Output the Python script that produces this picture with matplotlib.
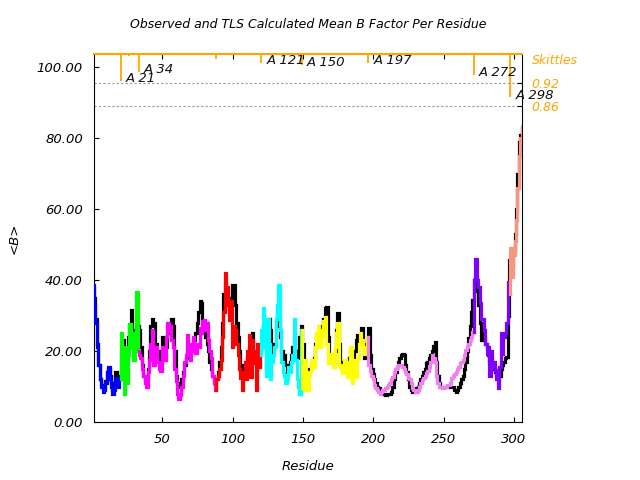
import numpy as np
import matplotlib
matplotlib.use("Agg")
import matplotlib.pyplot as plt
from matplotlib.ticker import FormatStrFormatter

# TLS calculated <B> per TLS group (consecutive residues, group 1 starts at residue 1)
TLS_BLUE = [38.5, 33, 28, 21, 16, 12, 10, 8.5, 9, 11, 14, 15.5, 12, 10, 8, 9, 12.5, 11, 10, 12]
TLS_GREEN = [25, 19.5, 8, 21, 11, 19, 27.5, 21, 25, 17.5, 24, 36.5, 20]
TLS_MAGENTA = [19, 18, 15, 13, 11, 10, 14, 17.5, 22, 26,
               16, 19, 21, 17, 15, 14.5, 21, 18, 17.5, 24,
               27.8, 26, 27, 23, 21, 15, 11.5, 8, 6.5, 7.5,
               10, 13, 17, 19, 24.5, 20, 17.5, 22, 24, 20,
               19.5, 22, 21, 26.5, 25, 28.5, 28.7, 26, 28, 23,
               20, 18, 13, 11, 9]
TLS_RED = [12, 13, 15, 17.5, 24, 31, 42, 38, 33, 28.7,
           34, 21, 27, 26, 22, 19, 15, 12.5, 9, 14,
           17, 12, 20, 24.5, 12.8, 23, 16.5, 20, 9, 22,
           15.5, 19]
TLS_CYAN = [26, 32, 21, 13, 29, 22, 12, 17, 19, 21,
            29, 33, 38.6, 26, 17, 14, 13, 11, 12, 15.5,
            14, 17, 19, 29, 17.5, 12, 10, 8, 26]
TLS_YELLOW = [9.5, 9, 17.5, 13, 9, 14, 17.5, 16, 15.5, 21,
              25, 27, 21, 24, 26, 28.5, 29.7, 22, 16.5, 18,
              19.3, 17, 15.5, 21, 25, 27.8, 16, 15.5, 13.7, 16,
              17.5, 14, 12.8, 17, 21, 11, 17.5, 14, 12.8, 18,
              22, 25, 23, 21, 19.3, 20, 24]
TLS_VIOLET = [16, 14.5, 13, 12, 10.5, 9.5, 9, 8.5, 8, 8.5,
              9, 9, 9.5, 10, 10.5, 11, 12, 12.8, 14, 15,
              15.6, 16, 16, 16, 15.6, 15, 14, 13.5, 12.5, 12,
              11, 9.5, 9, 8.5, 8.5, 9, 10, 11, 11.8, 12.5,
              13, 13.7, 14.5, 15.6, 17, 18.9, 18, 17, 13, 11,
              10, 10, 9.5, 9.5, 10, 10, 10.5, 10.5, 11, 12.5,
              13, 13.5, 14, 15, 15.6, 16.5, 17, 17.5, 19, 20.3,
              21, 22, 23, 24, 25.5]
TLS_PURPLE = [40, 46, 40, 38, 33.4, 29, 29, 26, 22, 19.3,
              21, 13, 20, 15.6, 17, 14.6, 12, 9.5, 15.6, 25,
              19.3, 24, 25, 28, 39.5, 36]
TLS_SALMON = [49, 41, 47, 51, 57, 66, 75, 80, 83]

TLS_GROUPS = [TLS_BLUE, TLS_GREEN, TLS_MAGENTA, TLS_RED, TLS_CYAN,
              TLS_YELLOW, TLS_VIOLET, TLS_PURPLE, TLS_SALMON]
GROUP_COLORS = ["#0000ff", "#00ff00", "#ff00ff", "#ff0000", "#00ffff",
                "#ffff00", "#f080f0", "#8000ff", "#fa9580"]

# observed <B>, residue 1..306
OBSERVED = [38, 35, 29, 22, 16, 12, 10.5, 9.5, 9.5, 11.5,
            14, 15, 13, 11, 9, 11, 14, 13, 11, 13,
            20, 23, 12, 19, 16, 24, 27, 31.5, 24, 22,
            26, 30, 27, 26, 21, 16, 13, 11, 12, 15,
            20, 27, 29, 28, 22, 22, 19, 17, 20, 24,
            24, 22, 21, 25, 27, 28, 29, 27, 20, 13,
            11, 10, 10, 12, 14, 16, 18, 21, 20, 19,
            20, 22, 23, 25, 28, 31, 34, 33.5, 27, 25,
            24, 22, 20, 17, 15, 13, 11, 10.5, 12, 14,
            17, 21, 28, 36, 39, 37, 34, 32, 35, 38.5,
            38.6, 33, 28, 24, 20, 16, 14, 13.5, 15, 17,
            18, 20, 21, 25, 20, 18, 16, 17, 19, 20,
            22, 27, 21, 15, 24, 29, 26, 20, 19, 22,
            27, 31, 29, 24, 20, 17, 19, 16, 14, 16,
            17, 19, 21, 24, 20, 18, 20, 24, 27, 22,
            15, 14, 12, 13, 15, 16, 17, 18, 22, 24,
            25, 23, 24, 27, 29, 32, 32.5, 24, 19, 18,
            17, 16, 20, 26, 30.6, 22, 17, 15, 16, 17,
            15, 14, 18, 20, 16, 18, 20, 23, 24.5, 22,
            24, 26.4, 22, 18, 19, 23, 26.4, 19, 15, 13.5,
            12, 11, 10, 9.5, 9, 8.5, 8, 7.8, 7.6, 8,
            8, 8, 8.5, 10, 12, 14, 15.5, 17, 18, 19,
            19.3, 19, 16, 14, 12, 10, 9, 8.5, 8.5, 9,
            9.5, 10, 11, 12, 13, 14, 15, 16.5, 17, 18,
            19, 20, 21.5, 22.6, 17, 13, 11, 10, 10, 10,
            10, 10, 10, 10, 10, 10, 10, 9, 8.5, 9,
            10, 11, 12, 13, 15, 17, 20, 23.6, 27, 31,
            34.4, 40, 40.5, 37, 33, 28, 23, 27, 24, 22,
            21, 19, 17, 18, 16.5, 15, 14, 13, 12, 13,
            15, 16, 17, 18, 18.3, 30, 45.6, 45, 44, 48,
            53, 60, 70, 79, 81, 83]

# TLS segment boundaries ("skittles")
SKITTLE_RES = [21, 27, 34, 89, 121, 150, 197, 272, 298]
SKITTLE_VALUES = [0.926, 0.991, 0.949, 0.983, 0.973, 0.967, 0.973, 0.941, 0.883]
SKITTLE_LABELS = ["A 21", "", "A 34", "", "A 121", "A 150", "A 197", "A 272", "A 298"]
SKITTLE_LEVELS = [0.92, 0.86]

X_TICKS = [50, 100, 150, 200, 250, 300]
Y_TICKS = [0, 20, 40, 60, 80, 100]
YMAX = 103.7


def sk_to_y(v):
    # skittle scale drawn on the <B> axis: 0.92 -> 95.5, 0.86 -> 89.0
    return 95.5 + (np.asarray(v) - 0.92) * (6.5 / 0.06)


def step_xy(first, vals, prev=None):
    r = np.arange(first, first + len(vals))
    x = np.repeat(r, 2) + np.tile([-0.5, 0.5], len(vals))
    y = np.repeat(np.asarray(vals, float), 2)
    if prev is not None:
        x = np.r_[first - 0.5, x]
        y = np.r_[prev, y]
    return x, y


plt.rcParams["font.family"] = ["DejaVu Sans"]
plt.rcParams["font.style"] = "italic"

fig = plt.figure(figsize=(6.4, 4.8), dpi=100)
ax = fig.add_axes([94 / 640, 58 / 480, 428 / 640, 368 / 480])

lw = 2.3
x, y = step_xy(1, OBSERVED)
ax.plot(x, y, color="black", lw=lw, solid_joinstyle="miter", zorder=2)

start, prev = 1, None
for vals, col in zip(TLS_GROUPS, GROUP_COLORS):
    x, y = step_xy(start, vals, prev)
    ax.plot(x, y, color=col, lw=lw, solid_joinstyle="miter", zorder=3)
    start += len(vals)
    prev = vals[-1]

# skittle reference levels
for lev in SKITTLE_LEVELS:
    ax.axhline(sk_to_y(lev), color="#999999", lw=0.8, ls=(0, (2, 2)), zorder=1)

# skittles hanging from the top
tips = sk_to_y(SKITTLE_VALUES)
for r, tip, lab in zip(SKITTLE_RES, tips, SKITTLE_LABELS):
    ax.vlines(r - 0.5, tip, YMAX, color="#ffa500", lw=1.3, zorder=4, clip_on=False)
    if lab:
        ax.annotate(lab, (r - 0.5, tip), xytext=(3.5, 1.5), textcoords="offset points",
                    ha="left", va="center", fontsize=9.5, color="#111111",
                    annotation_clip=False, zorder=5)

ax.set_xlim(1.45, 305.7)
ax.set_ylim(0, YMAX)
ax.set_xticks(X_TICKS)
ax.set_yticks(Y_TICKS)
ax.yaxis.set_major_formatter(FormatStrFormatter("%.2f"))
ax.tick_params(direction="in", length=3.5, top=True, right=True, labelsize=9.5, pad=8)
ax.spines["top"].set_color("#ffa500")
ax.spines["top"].set_linewidth(1.5)

# skittle scale labels on the right
sec = ax.twinx()
sec.set_ylim(0, YMAX)
sec.set_yticks(sk_to_y(SKITTLE_LEVELS))
sec.set_yticklabels([f"{v:.2f}" for v in SKITTLE_LEVELS])
sec.tick_params(direction="in", length=3.5, labelsize=9, pad=7, labelcolor="#ffa500")
for s in sec.spines.values():
    s.set_visible(False)
ax.text(1.023, 101.8, "Skittles", transform=ax.get_yaxis_transform(),
        ha="left", va="center", fontsize=9, color="#ffa500")

ax.set_xlabel("Residue", fontsize=9.5, labelpad=10)
fig.text(14 / 640, 1 - 238 / 480, "<B>", rotation=90, ha="center", va="center", fontsize=9.5)
fig.text(308 / 640, 1 - 25 / 480, "Observed and TLS Calculated Mean B Factor Per Residue",
         ha="center", va="center", fontsize=9)

fig.savefig("out.png", dpi=100)
